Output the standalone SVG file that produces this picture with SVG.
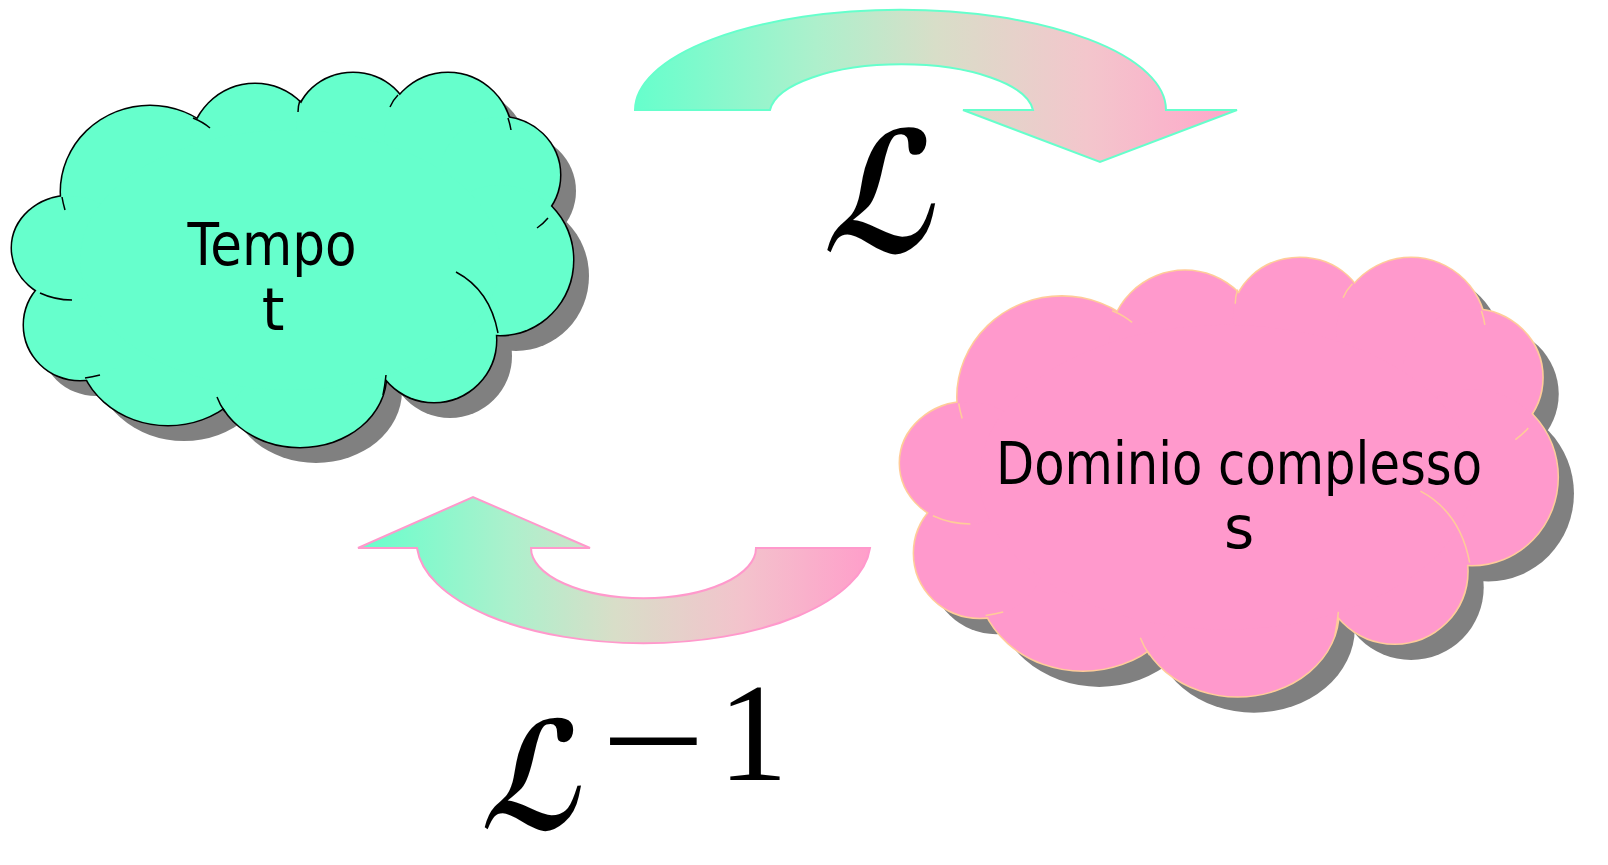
<svg xmlns="http://www.w3.org/2000/svg" width="1608" height="865" viewBox="0 0 1608 865">
<style>
.lbl{font-family:"DejaVu Sans","Liberation Sans",sans-serif;font-size:58px;fill:#000;text-anchor:middle}
.cal{font-family:"DejaVu Sans",sans-serif;font-weight:bold;fill:#000}
.math{font-family:"Liberation Serif","DejaVu Serif",serif;fill:#000}
.crease{fill:none}
</style>
<defs>
<g id="cloudShape">
<ellipse cx="150" cy="192" rx="89" ry="86"/>
<ellipse cx="255" cy="150" rx="65" ry="66"/>
<ellipse cx="353" cy="125" rx="57" ry="52"/>
<ellipse cx="448" cy="138" rx="64" ry="65"/>
<ellipse cx="500" cy="175" rx="60" ry="58"/>
<ellipse cx="500" cy="260" rx="73" ry="75"/>
<ellipse cx="434" cy="340" rx="62" ry="62"/>
<ellipse cx="300" cy="375" rx="86" ry="72"/>
<ellipse cx="168" cy="345" rx="90" ry="80"/>
<ellipse cx="80" cy="325" rx="56" ry="55"/>
<ellipse cx="70" cy="248" rx="58" ry="52"/>
<ellipse cx="290" cy="260" rx="210" ry="130"/>
</g>
<path id="cloudCreases" d="M193,118 Q203,122 210,128 M300,100 Q298,106 298,112 M398,95 Q393,100 390,107 M508,118 Q510,124 511,130 M548,218 Q543,224 537,228 M456,272 Q490,290 498,333 M383,395 Q385,385 386,375 M217,397 Q220,405 225,412 M85,378 Q92,377 100,375 M40,293 Q55,300 72,300 M62,197 Q63,203 65,210"/>
<linearGradient id="gradTop" gradientUnits="userSpaceOnUse" x1="635" y1="0" x2="1237" y2="0">
<stop offset="0" stop-color="#66FFCC"/>
<stop offset="0.3" stop-color="#ADF0CC"/>
<stop offset="0.5" stop-color="#D8DEC8"/>
<stop offset="0.75" stop-color="#F3C6CC"/>
<stop offset="1" stop-color="#FFA6CA"/>
</linearGradient>
<linearGradient id="gradBottom" gradientUnits="userSpaceOnUse" x1="358" y1="0" x2="870" y2="0">
<stop offset="0" stop-color="#66FFCC"/>
<stop offset="0.3" stop-color="#ADF0CC"/>
<stop offset="0.5" stop-color="#D8DEC8"/>
<stop offset="0.75" stop-color="#F3C3CC"/>
<stop offset="1" stop-color="#FF9ECA"/>
</linearGradient>
</defs>

<g id="connectors">
<path id="arrow-laplace" d="M635,110 A265,100 0 0 1 1166,110 L1237,110 L1100,162 L963,110 L1033,110 A132,50 0 0 0 770,110 Z" fill="url(#gradTop)" stroke="#66FFCC" stroke-width="2"/>
<path id="arrow-inverse" d="M870,548 A227,102 0 0 1 417,548 L358,548 L473,497 L590,548 L531,548 A112,50 0 0 0 756,548 Z" fill="url(#gradBottom)" stroke="#FF99CC" stroke-width="2"/>
</g>

<g id="node-tempo">
<use href="#cloudShape" transform="translate(16,16)" fill="#808080"/>
<use href="#cloudShape" fill="none" stroke="#000" stroke-width="3"/>
<use href="#cloudShape" fill="#66FFCC"/>
<use href="#cloudCreases" class="crease" stroke="#000" stroke-width="1.5"/>
<text class="lbl" x="272" y="265" textLength="169" lengthAdjust="spacingAndGlyphs">Tempo</text>
<text class="lbl" x="273" y="330">t</text>
</g>

<g id="node-dominio">
<g transform="translate(886,172.4) scale(1.172)">
<use href="#cloudShape" transform="translate(14,14)" fill="#808080"/>
<use href="#cloudShape" fill="none" stroke="#FFCC99" stroke-width="2.6"/>
<use href="#cloudShape" fill="#FF99CC"/>
<use href="#cloudCreases" class="crease" stroke="#FFCC99" stroke-width="1.3"/>
</g>
<text class="lbl" x="1239" y="484" textLength="486" lengthAdjust="spacingAndGlyphs">Dominio complesso</text>
<text class="lbl" x="1239" y="548">s</text>
</g>

<g id="label-laplace">
<text class="cal" transform="translate(822,252) skewX(-12)" x="0" y="0" font-size="168" textLength="112" lengthAdjust="spacingAndGlyphs">ℒ</text>
</g>
<g id="label-inverse">
<text class="cal" transform="translate(480,829) skewX(-12)" x="0" y="0" font-size="150" textLength="100" lengthAdjust="spacingAndGlyphs">ℒ</text>
<text class="math" x="601" y="791" font-size="150" textLength="105" lengthAdjust="spacingAndGlyphs">−</text>
<text class="math" x="718" y="780" font-size="140">1</text>
</g>
</svg>
